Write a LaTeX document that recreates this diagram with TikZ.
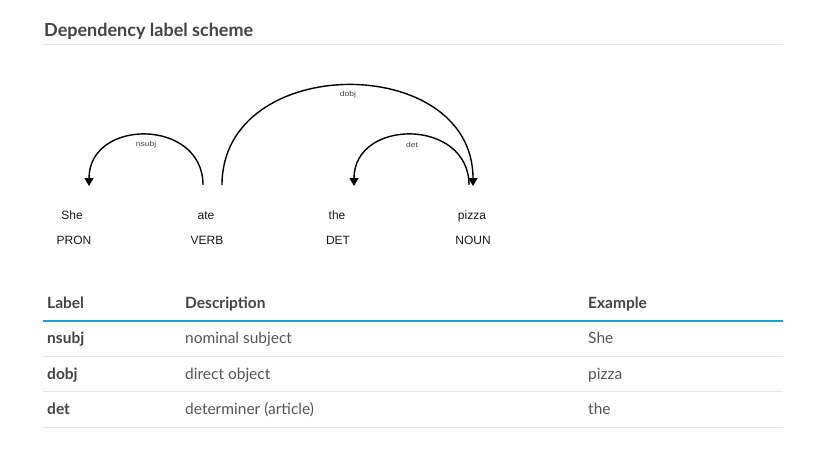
\documentclass[tikz,border=0pt]{standalone}
\usepackage{fontspec}
\setmainfont{Lato}
\newfontfamily\arialf{Liberation Sans}
\usetikzlibrary{arrows.meta,calc}
\definecolor{hdr}{HTML}{444444}
\definecolor{txt}{HTML}{555555}
\definecolor{rule}{HTML}{E6E6E6}
\definecolor{blue}{HTML}{1E9FD8}
\tikzset{
  word/.style={font=\arialf\fontsize{12}{14}\selectfont, text=black!90, inner sep=0pt, anchor=base},
  arclbl/.style={font=\arialf\fontsize{8.5}{10}\selectfont, text=black!75, inner sep=0pt, yscale=0.85},
  arc/.style={line width=1.4pt, black},
  arrowed/.style={arc, -{Triangle[width=9pt,length=8pt]}},
  th/.style={font=\fontsize{15.5}{18}\selectfont\bfseries, text=hdr, anchor=base west, inner sep=0pt},
  tl/.style={font=\fontsize{15.5}{18}\selectfont\bfseries, text=hdr, anchor=base west, inner sep=0pt},
  td/.style={font=\fontsize{15.5}{18}\selectfont, text=txt, anchor=base west, inner sep=0pt},
  sep/.style={draw=rule, line width=0.8pt},
}
\begin{document}
\begin{tikzpicture}[x=1pt,y=-1pt]
\useasboundingbox[fill=white] (0,0) rectangle (832,458);
% title
\node[font=\fontsize{18}{21}\selectfont\bfseries, text=hdr, anchor=base west, inner sep=0pt] (title) at (44,36) {Dependency label scheme};
\coordinate (tl0) at (43,44); \coordinate (tl1) at (783,44);
\draw[sep] (tl0) -- (tl1);

% words
\node[word] (w1) at (72,219) {She};
\node[word] (w2) at (206,219) {ate};
\node[word] (w3) at (337,219) {the};
\node[word] (w4) at (472,219) {pizza};
\node[word] (p1) at (74,244) {PRON};
\node[word] (p2) at (207,244) {VERB};
\node[word] (p3) at (338,244) {DET};
\node[word] (p4) at (473,244) {NOUN};

% arc end points
\coordinate (a1) at (203,185);
\coordinate (s1) at (89,186);
\coordinate (a2) at (222,185);
\coordinate (z2) at (473,186);
\coordinate (z3) at (469,185);
\coordinate (t3) at (354,186);

\draw[arrowed] (a1) .. controls ($(a1)+(0,-67)$) and ($(s1)+(0,-68)$) .. (s1);
\draw[arrowed] (a2) .. controls ($(a2)+(0,-133)$) and ($(z2)+(0,-134)$) .. (z2);
\draw[arrowed] (z3) .. controls ($(z3)+(0,-67)$) and ($(t3)+(0,-68)$) .. (t3);

\node[arclbl] (l1) at (146,145) {nsubj};
\node[arclbl] (l2) at (348,95) {dobj};
\node[arclbl] (l3) at (412,145) {det};

% table
\node[th] (h1) at (47,308) {Label};
\node[th] (h2) at (185,308) {Description};
\node[th] (h3) at (588,308) {Example};
\coordinate (b0) at (43,321); \coordinate (b1) at (783,321);
\draw[blue, line width=2pt] (b0) -- (b1);

\node[tl] (r1a) at (47,343.5) {nsubj};
\node[td] (r1b) at (185,343.5) {nominal subject};
\node[td] (r1c) at (588,343.5) {She};
\coordinate (s10) at (43,356); \coordinate (s11) at (783,356);
\draw[sep] (s10) -- (s11);

\node[tl] (r2a) at (47,379) {dobj};
\node[td] (r2b) at (185,379) {direct object};
\node[td] (r2c) at (588,379) {pizza};
\coordinate (s20) at (43,391.5); \coordinate (s21) at (783,391.5);
\draw[sep] (s20) -- (s21);

\node[tl] (r3a) at (47,414.5) {det};
\node[td] (r3b) at (185,414.5) {determiner (article)};
\node[td] (r3c) at (588,414.5) {the};
\coordinate (s30) at (43,427); \coordinate (s31) at (783,427);
\draw[sep] (s30) -- (s31);
\end{tikzpicture}
\end{document}
